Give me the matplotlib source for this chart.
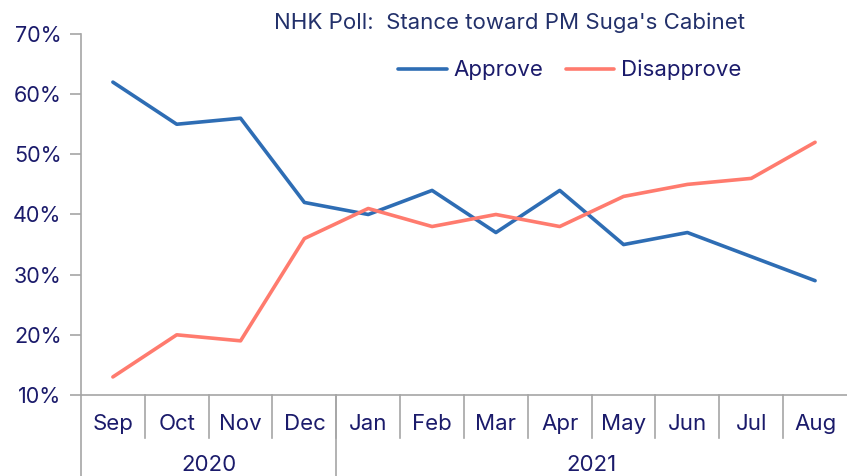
import matplotlib.pyplot as plt
import matplotlib.transforms as mtransforms
import numpy as np

plt.rcParams['font.family'] = ['Inter', 'DejaVu Sans']

months = ['Sep', 'Oct', 'Nov', 'Dec', 'Jan', 'Feb', 'Mar', 'Apr', 'May', 'Jun', 'Jul', 'Aug']
years = ['2020', '2021']
year_counts = [4, 8]
approve = [62, 55, 56, 42, 40, 44, 37, 44, 35, 37, 33, 29]
disapprove = [13, 20, 19, 36, 41, 38, 40, 38, 43, 45, 46, 52]

navy = '#1b1b6b'
gray = '#a6a6a6'

fig = plt.figure(figsize=(8.47, 4.76), dpi=100)
ax = fig.add_axes([0.0956, 0.1702, 0.9044, 0.7584])

x = np.arange(len(months)) + 0.5
ax.plot(x, approve, color='#2e6db4', lw=2.6, label='Approve', solid_capstyle='round')
ax.plot(x, disapprove, color='#ff7b6e', lw=2.6, label='Disapprove', solid_capstyle='round')

ax.set_xlim(0, len(months))
ax.set_ylim(10, 70)
ax.set_yticks(range(10, 71, 10))
ax.set_yticklabels([f'{v}%' for v in range(10, 71, 10)], color=navy, fontsize=15.5)
ax.tick_params(axis='y', length=8, color=gray, width=1.2, pad=6)
ax.set_xticks([])

for s in ['top', 'right']:
    ax.spines[s].set_visible(False)
ax.spines['left'].set_color(gray)
ax.spines['left'].set_linewidth(1.2)
ax.spines['bottom'].set_color(gray)
ax.spines['bottom'].set_linewidth(1.2)

# two-level category axis
trans = mtransforms.blended_transform_factory(ax.transData, ax.transAxes)
for i, m in enumerate(months):
    ax.text(i + 0.5, -0.079, m, transform=trans, ha='center', va='center',
            color=navy, fontsize=16)
for i in range(1, len(months)):
    ax.plot([i, i], [0, -0.118], transform=trans, color=gray, lw=1.2, clip_on=False)

start = 0
for y, n in zip(years, year_counts):
    ax.text(start + n / 2, -0.193, y, transform=trans, ha='center', va='center',
            color=navy, fontsize=16)
    ax.plot([start, start], [0, -0.25], transform=trans, color=gray, lw=1.2, clip_on=False)
    start += n

fig.text(0.601, 0.952, "NHK Poll:  Stance toward PM Suga's Cabinet", ha='center', va='center',
         color='#22306a', fontsize=16)
leg = ax.legend(loc='center', bbox_to_anchor=(0.638, 0.90), ncol=2, frameon=False,
                fontsize=16, handlelength=2.2, handletextpad=0.3, columnspacing=1.0)
for t in leg.get_texts():
    t.set_color(navy)

fig.savefig('out.png', dpi=100)
